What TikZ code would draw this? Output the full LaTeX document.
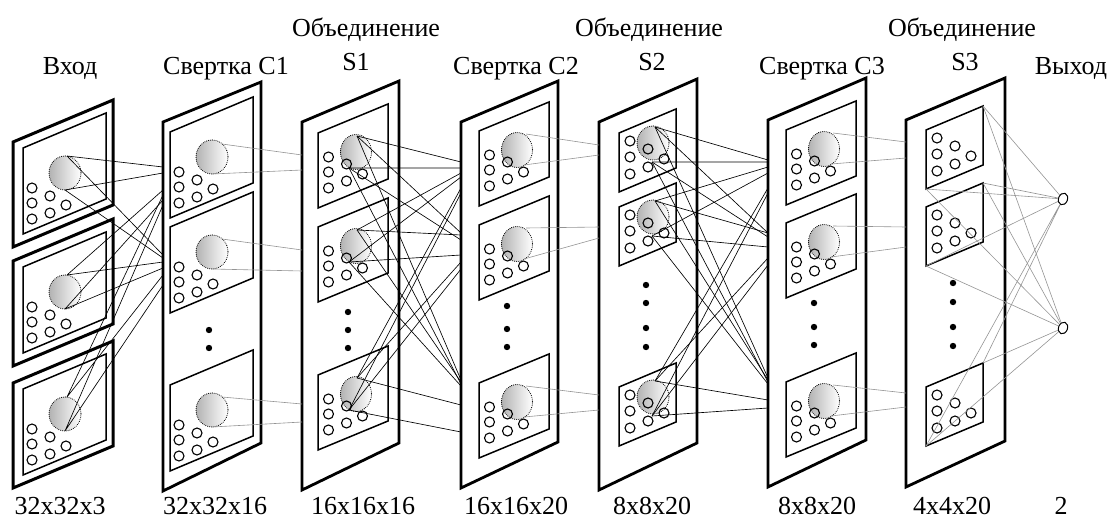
\documentclass[tikz,border=0pt]{standalone}
\usepackage{fontspec}
\setmainfont{Liberation Serif}
\usetikzlibrary{shapes.geometric}
\tikzset{
  panel/.style={line width=2.8pt, line join=miter},
  framebox/.style={line width=3pt, line join=miter},
  fmap/.style={line width=1.5pt, line join=miter},
  cell/.style={line width=1.1pt},
  rfield/.style={draw, line width=1.1pt, line cap=round, dash pattern=on 0pt off 1.9pt, left color=black!30, right color=white},
  link/.style={line width=0.65pt, black},
  glink/.style={line width=0.6pt, black!42},
  dotmark/.style={fill=black},
  lbl/.style={font=\fontsize{26}{30}\selectfont, inner sep=0pt, anchor=base},
  outn/.style={draw, line width=1pt, ellipse, minimum width=9pt, minimum height=12pt, inner sep=0pt, rotate=-20},
  % large feature map: frame, receptive field, neurons
  bigmap/.pic={
    \draw[fmap] (0,0) -- (83,-35) -- (83,51) -- (0,86) -- cycle;
    \draw[rfield] (42,25) ellipse [x radius=16, y radius=17];
    \foreach \u/\v in {9/40, 9/55, 9/71, 27/48, 27/65, 43/57}
      \draw[cell] (\u,\v) circle [radius=5];
    \coordinate (-t) at (44,8);
    \coordinate (-tr) at (52,12);
    \coordinate (-b) at (42,42);
  },
  % medium feature map
  medmap/.pic={
    \draw[fmap] (0,0) -- (70,-29) -- (70,46) -- (0,75) -- cycle;
    \draw[rfield] (38,19) ellipse [x radius=15.5, y radius=17.5];
    \foreach \u/\v in {10.5/24, 10.5/39, 10.5/55, 28.5/31, 28.5/48, 44.5/41}
      \draw[cell] (\u,\v) circle [radius=5];
    \coordinate (-t) at (39,3);
    \coordinate (-b) at (31,35);
    \coordinate (-tr) at (47,3);
    \coordinate (-br) at (45,34);
  },
  % small feature map with receptive field
  smallmap/.pic={
    \draw[fmap] (0,0) -- (57,-24) -- (57,35) -- (0,59) -- cycle;
    \draw[rfield] (34,10) ellipse [x radius=16, y radius=17];
    \foreach \u/\v in {11/8, 11/24, 11/41, 29/16, 29/34, 45/26}
      \draw[cell] (\u,\v) circle [radius=5];
    \coordinate (-t) at (36,-6);
    \coordinate (-b) at (33,29);
  },
  % small feature map, neurons only
  plainmap/.pic={
    \draw[fmap] (0,0) -- (57,-24) -- (57,35) -- (0,59) -- cycle;
    \foreach \u/\v in {11/8, 11/24, 11/41, 29/16, 29/34, 45/26}
      \draw[cell] (\u,\v) circle [radius=5];
    \coordinate (-tr) at (57,-24);
    \coordinate (-bl) at (0,59);
  },
}
\begin{document}
\begin{tikzpicture}[x=1pt, y=-1pt]
\useasboundingbox (0,0) rectangle (1111,522);

% ---- titles
\node[lbl] (tIn)  at (70,74)   {Вход};
\node[lbl] (tC1)  at (226,74)  {Свертка С1};
\node[lbl] (tP1)  at (366,36)  {Объединение};
\node[lbl] (tS1)  at (356,70)  {S1};
\node[lbl] (tC2)  at (516,74)  {Свертка С2};
\node[lbl] (tP2)  at (649,36)  {Объединение};
\node[lbl] (tS2)  at (652,70)  {S2};
\node[lbl] (tC3)  at (822,74)  {Свертка С3};
\node[lbl] (tP3)  at (962,36)  {Объединение};
\node[lbl] (tS3)  at (965,70)  {S3};
\node[lbl] (tOut) at (1071,74) {Выход};

% ---- sizes
\begin{scope}[every node/.append style={text depth=0pt}]
\node[lbl] (zIn)  at (60,514)   {32x32x3};
\node[lbl] (zC1)  at (215,514)  {32x32x16};
\node[lbl] (zS1)  at (363,514)  {16x16x16};
\node[lbl] (zC2)  at (516,514)  {16x16x20};
\node[lbl] (zS2)  at (652,514)  {8x8x20};
\node[lbl] (zC3)  at (817,514)  {8x8x20};
\node[lbl] (zS3)  at (952,514)  {4x4x20};
\node[lbl] (zOut) at (1061,514) {2};
\end{scope}

% ---- input channels
\foreach \n/\T in {1/142, 2/261, 3/383} {
  \draw[framebox] (13,\T) -- (113,\T-42) -- (113,\T+63) -- (13,\T+105) -- cycle;
  \pic (in\n) at (23,\T+6) {bigmap};
}

% ---- layer panels
\draw[panel] (163,122) -- (261,82) -- (261,443) -- (163,491) -- cycle;
\draw[panel] (302,122) -- (399,81) -- (399,443) -- (302,490) -- cycle;
\draw[panel] (461,122) -- (558,81) -- (558,442) -- (461,488) -- cycle;
\draw[panel] (599,122) -- (697,79) -- (697,443) -- (599,490) -- cycle;
\draw[panel] (768,120) -- (866,78) -- (866,440) -- (768,487) -- cycle;
\draw[panel] (906,120) -- (1005,78) -- (1005,441) -- (906,487) -- cycle;

% ---- feature maps
\foreach \n/\Y in {1/132, 2/227, 3/385} \pic (c1m\n) at (170,\Y) {bigmap};
\foreach \n/\Y in {1/133, 2/227, 3/375} \pic (s1m\n) at (318,\Y) {medmap};
\foreach \n/\Y in {1/131, 2/225, 3/383} \pic (c2m\n) at (479,\Y) {medmap};
\foreach \n/\Y in {1/133, 2/207, 3/387} \pic (s2m\n) at (619,\Y) {smallmap};
\foreach \n/\Y in {1/130, 2/223, 3/382} \pic (c3m\n) at (786,\Y) {medmap};
\foreach \n/\Y in {1/130, 2/207, 3/387} \pic (s3m\n) at (926,\Y) {plainmap};

% ---- ellipsis dots
\foreach \x/\y in {209/330, 209/348,
                   348/312, 348/330, 348/348,
                   507/306, 507/329, 507/347,
                   646/285, 646/303, 646/328, 646/347,
                   814/303, 814/327, 814/345,
                   953/283, 953/302, 953/327, 953/346}
  \fill[dotmark] (\x,\y) circle [radius=3.2];

% ---- output neurons
\node[outn] (o1) at (1063,199) {};
\node[outn] (o2) at (1063,328) {};

% ---- input -> C1
\foreach \n/\a/\b/\c/\d in {1/167/173/255/258, 2/190/200/262/268, 3/195/205/275/285} {
  \coordinate (ea\n) at (163,\a);
  \coordinate (eb\n) at (163,\b);
  \coordinate (ec\n) at (163,\c);
  \coordinate (ed\n) at (163,\d);
  \draw[link] (in\n-t) -- (ea\n) (in\n-b) -- (eb\n) (in\n-t) -- (ec\n) (in\n-b) -- (ed\n);
}

% ---- C1 -> S1
\foreach \n/\a/\b in {1/155/170, 2/250/271, 3/404/422} {
  \coordinate (pa\n) at (302,\a);
  \coordinate (pb\n) at (302,\b);
  \draw[glink] (c1m\n-tr) -- (pa\n) (c1m\n-b) -- (pb\n);
}

% ---- S1 -> C2
\foreach \j/\k/\a/\b in {1/1/162/168, 2/1/173/177, 3/1/188/193,
                         1/2/233/240, 2/2/235/255, 3/2/262/269,
                         1/3/380/384, 2/3/382/386, 3/3/405/432} {
  \coordinate (ka\j\k) at (461,\a);
  \coordinate (kb\j\k) at (461,\b);
  \draw[link] (s1m\j-t) -- (ka\j\k) (s1m\j-b) -- (kb\j\k);
}

% ---- C2 -> S2
\foreach \n/\a/\b in {1/145/155, 2/227/238, 3/395/410} {
  \coordinate (qa\n) at (599,\a);
  \coordinate (qb\n) at (599,\b);
  \draw[glink] (c2m\n-tr) -- (qa\n) (c2m\n-br) -- (qb\n);
}

% ---- S2 -> C3
\foreach \j/\k/\a/\b in {1/1/160/162, 2/1/167/173, 3/1/188/193,
                         1/2/233/237, 2/2/233/247, 3/2/258/265,
                         1/3/378/382, 2/3/380/384, 3/3/400/408} {
  \coordinate (ma\j\k) at (768,\a);
  \coordinate (mb\j\k) at (768,\b);
  \draw[link] (s2m\j-t) -- (ma\j\k) (s2m\j-b) -- (mb\j\k);
}

% ---- C3 -> S3
\foreach \n/\a/\b in {1/142/158, 2/227/247, 3/393/407} {
  \coordinate (ra\n) at (906,\a);
  \coordinate (rb\n) at (906,\b);
  \draw[glink] (c3m\n-tr) -- (ra\n) (c3m\n-br) -- (rb\n);
}

% ---- S3 -> output
\foreach \n in {1,2,3}
  \foreach \o in {1,2}
    \draw[glink] (s3m\n-tr) -- (o\o) (s3m\n-bl) -- (o\o);

\end{tikzpicture}
\end{document}
